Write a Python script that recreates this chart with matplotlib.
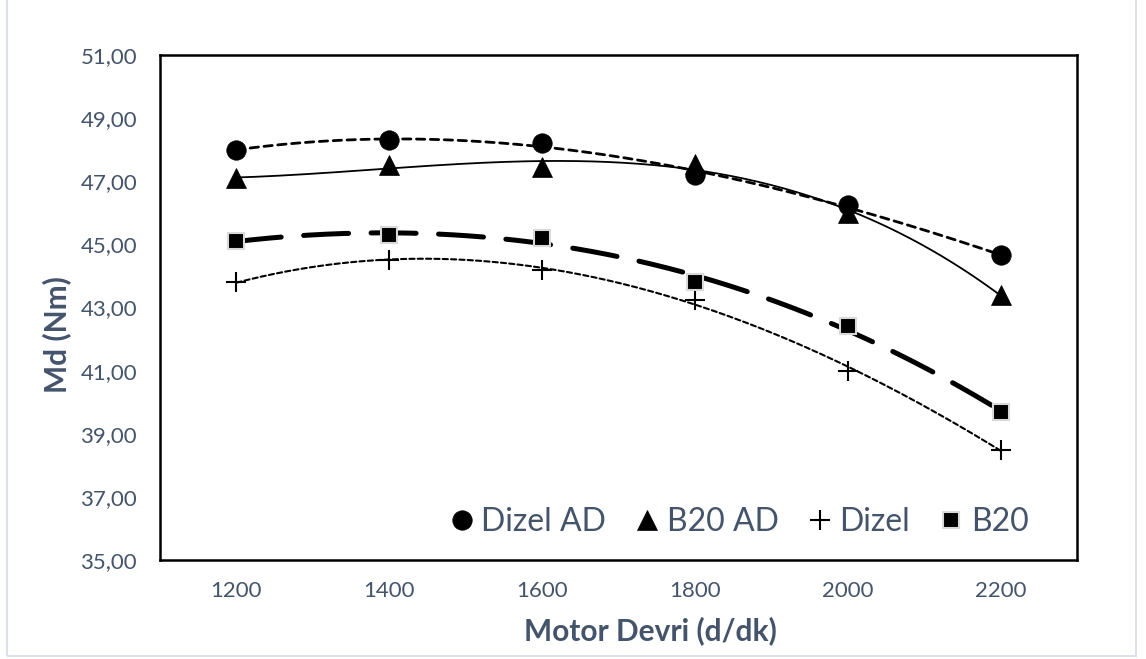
import numpy as np
import matplotlib.pyplot as plt
from matplotlib.lines import Line2D
from matplotlib.patches import Rectangle

plt.rcParams['font.family'] = ['Lato', 'DejaVu Sans']

rpm = [1200, 1400, 1600, 1800, 2000, 2200]
dizel_ad = [48.0, 48.3, 48.2, 47.2, 46.25, 44.65]
b20_ad = [47.1, 47.5, 47.45, 47.55, 46.0, 43.4]
dizel = [43.8, 44.5, 44.2, 43.25, 41.0, 38.5]
b20 = [45.1, 45.3, 45.2, 43.8, 42.4, 39.7]

y_ticks = np.arange(35, 51.1, 2)
txt = '#44546A'

fig = plt.figure(figsize=(11.46, 6.59), dpi=100)
ax = fig.add_axes([160 / 1146, 1 - 560 / 659, 917 / 1146, 505 / 659])

# figure frame
fig.patches.append(Rectangle((7 / 1146, 3 / 659), 1129 / 1146, 660 / 659,
                             transform=fig.transFigure, fill=False,
                             edgecolor='#DDE2EA', lw=1.5))

series = [
    (dizel_ad, 'o', 14, dict(lw=2.0, dashes=(3.0, 2.0)), 'Dizel AD'),
    (b20_ad, '^', 14, dict(lw=1.3, ls='-'), 'B20 AD'),
    (dizel, '+', 14, dict(lw=1.5, dashes=(2.5, 1.5)), 'Dizel'),
    (b20, 's', 11.5, dict(lw=3.6, dashes=(9.0, 4.5)), 'B20'),
]

xs = np.linspace(rpm[0], rpm[-1], 300)
handles = []
for vals, mk, ms, lstyle, name in series:
    # polynomial trendline through each series
    coef = np.polyfit(rpm, vals, 3)
    ax.plot(xs, np.polyval(coef, xs), color='black', dash_capstyle='round',
            zorder=2, **lstyle)
    mec = '#D9D9D9' if mk == 's' else 'black'
    mew = 1.5 if mk in ('s', '+') else 0.5
    ax.plot(rpm, vals, ls='none', marker=mk, ms=ms, color='black',
            mec=mec, mew=mew, zorder=3)
    handles.append(Line2D([], [], ls='none', marker=mk, ms=ms, color='black',
                          mec=mec, mew=mew, label=name))

ax.set_xlim(1100, 2300)
ax.set_ylim(35, 51)
ax.set_xticks(rpm)
ax.set_xticklabels([str(r) for r in rpm])
ax.set_yticks(y_ticks)
ax.set_yticklabels([f'{v:.2f}'.replace('.', ',') for v in y_ticks])
ax.tick_params(length=0, labelsize=16, colors=txt)
ax.tick_params(axis='y', pad=16.5)
ax.tick_params(axis='x', pad=15)
for s in ax.spines.values():
    s.set_linewidth(1.8)
    s.set_color('black')

ax.set_xlabel('Motor Devri (d/dk)', fontsize=21.5, fontweight='bold',
              color=txt, va='center')
ax.xaxis.set_label_coords(0.535, -0.139)
ax.set_ylabel('Md (Nm)', fontsize=21.5, fontweight='bold', color=txt,
              va='center')
ax.yaxis.set_label_coords(-0.113, 0.4455)

leg = ax.legend(handles=handles, loc='center right', ncol=4, frameon=False,
                fontsize=23, handletextpad=0.1, columnspacing=0.8,
                handlelength=1.0, bbox_to_anchor=(0.947, 0.075),
                borderaxespad=0, borderpad=0)
for t in leg.get_texts():
    t.set_color(txt)

fig.savefig('out.png', dpi=100)
